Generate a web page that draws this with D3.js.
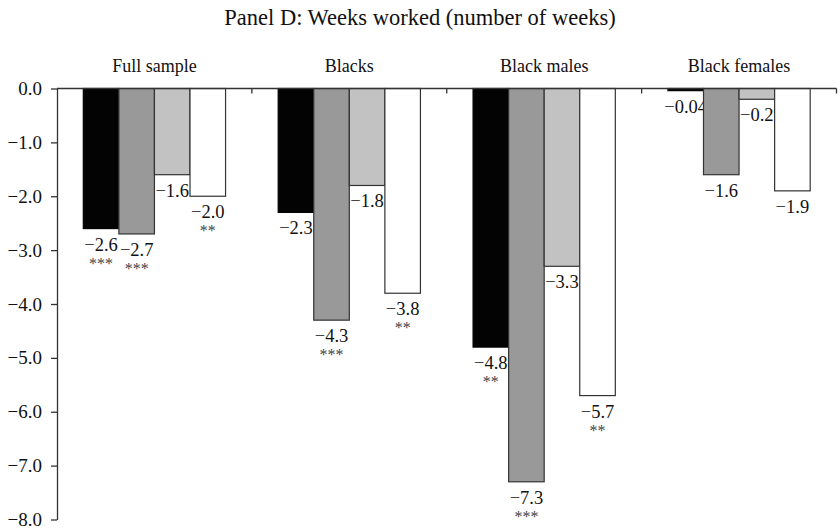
<!DOCTYPE html>
<html>
<head>
<meta charset="utf-8">
<script src="https://cdn.jsdelivr.net/npm/d3@7"></script>
<style>
  body { margin: 0; background: #fff; }
  text { font-family: "Liberation Serif", "Times New Roman", serif; fill: #111; }
</style>
</head>
<body>
<svg width="840" height="531"></svg>
<script>
var groups = ["Full sample", "Blacks", "Black males", "Black females"];
var series = ["s1", "s2", "s3", "s4"];
var fullSample   = [-2.6, -2.7, -1.6, -2.0];
var blacks       = [-2.3, -4.3, -1.8, -3.8];
var blackMales   = [-4.8, -7.3, -3.3, -5.7];
var blackFemales = [-0.04, -1.6, -0.2, -1.9];
var stars = [
  ["***", "***", "", "**"],
  ["", "***", "", "**"],
  ["**", "***", "", "**"],
  ["", "", "", ""]
];
var yTicks = [0, -1, -2, -3, -4, -5, -6, -7, -8];
var fills = ["#030303", "#999999", "#c2c2c2", "#ffffff"];

var values = [fullSample, blacks, blackMales, blackFemales];

var svg = d3.select("svg");
var mLeft = 57, mRight = 836.5, mTop = 88.5, mBottom = 519.5;
var serif = "'Liberation Serif', 'Times New Roman', serif";

var x0 = d3.scaleBand().domain(groups).range([mLeft, mRight]);
var x1 = d3.scaleBand().domain(series).range([0, x0.bandwidth()])
    .paddingInner(0).paddingOuter(0.74);
var y = d3.scaleLinear().domain([-8, 0]).range([mBottom, mTop]);

var fmt = function(v) { return Math.abs(v) < 0.1 ? d3.format(".2f")(v) : d3.format(".1f")(v); };

// title
svg.append("text")
    .attr("x", 420).attr("y", 25)
    .attr("text-anchor", "middle")
    .style("font-family", serif)
    .style("font-size", "22.5px")
    .text("Panel D: Weeks worked (number of weeks)");

// group labels
svg.selectAll(".glabel")
  .data(groups)
  .enter().append("text")
    .attr("class", "glabel")
    .attr("x", function(d) { return x0(d) + x0.bandwidth() / 2; })
    .attr("y", 72)
    .attr("text-anchor", "middle")
    .style("font-family", serif)
    .style("font-size", "18px")
    .text(function(d) { return d; });

// bars
var rows = [];
groups.forEach(function(g, gi) {
  series.forEach(function(s, si) {
    rows.push({ group: g, s: s, si: si, v: values[gi][si], star: stars[gi][si] });
  });
});

var bar = svg.append("g").selectAll("g")
  .data(rows)
  .enter().append("g");

bar.append("rect")
    .attr("x", function(d) { return x0(d.group) + x1(d.s); })
    .attr("y", y(0))
    .attr("width", x1.bandwidth())
    .attr("height", function(d) { return y(d.v) - y(0); })
    .style("fill", function(d) { return fills[d.si]; })
    .style("stroke", function(d) { return d.si == 0 ? "#030303" : "#333"; })
    .style("stroke-width", 1.2);

bar.append("text")
    .attr("x", function(d) { return x0(d.group) + x1(d.s) + x1.bandwidth() / 2; })
    .attr("y", function(d) { return y(d.v) + 22; })
    .attr("text-anchor", "middle")
    .style("font-family", serif)
    .style("font-size", "18.5px")
    .text(function(d) { return fmt(d.v); });

bar.filter(function(d) { return d.star; }).append("text")
    .attr("x", function(d) { return x0(d.group) + x1(d.s) + x1.bandwidth() / 2; })
    .attr("y", function(d) { return y(d.v) + 40; })
    .attr("text-anchor", "middle")
    .style("font-family", serif)
    .style("font-size", "16px")
    .style("fill", "#444")
    .text(function(d) { return d.star; });

// top axis line with group separators
svg.append("line")
    .attr("x1", mLeft).attr("x2", mRight)
    .attr("y1", y(0)).attr("y2", y(0))
    .style("stroke", "#333").style("stroke-width", 1.3);

svg.selectAll(".sep")
  .data(groups)
  .enter().append("line")
    .attr("class", "sep")
    .attr("x1", function(d) { return x0(d) + x0.bandwidth(); })
    .attr("x2", function(d) { return x0(d) + x0.bandwidth(); })
    .attr("y1", y(0)).attr("y2", y(0) + 5)
    .style("stroke", "#333").style("stroke-width", 1.3);

// y axis
var yAxis = svg.append("g")
    .attr("transform", "translate(" + mLeft + ",0)")
    .call(d3.axisLeft(y).tickValues(yTicks).tickSize(6).tickSizeOuter(0).tickPadding(9)
      .tickFormat(d3.format(".1f")));
yAxis.attr("font-family", null).attr("font-size", null);
yAxis.selectAll("path, line").style("stroke", "#333").style("stroke-width", 1.3);
yAxis.selectAll("text")
    .style("font-family", serif)
    .style("font-size", "19px")
    .style("fill", "#111");
</script>
</body>
</html>
